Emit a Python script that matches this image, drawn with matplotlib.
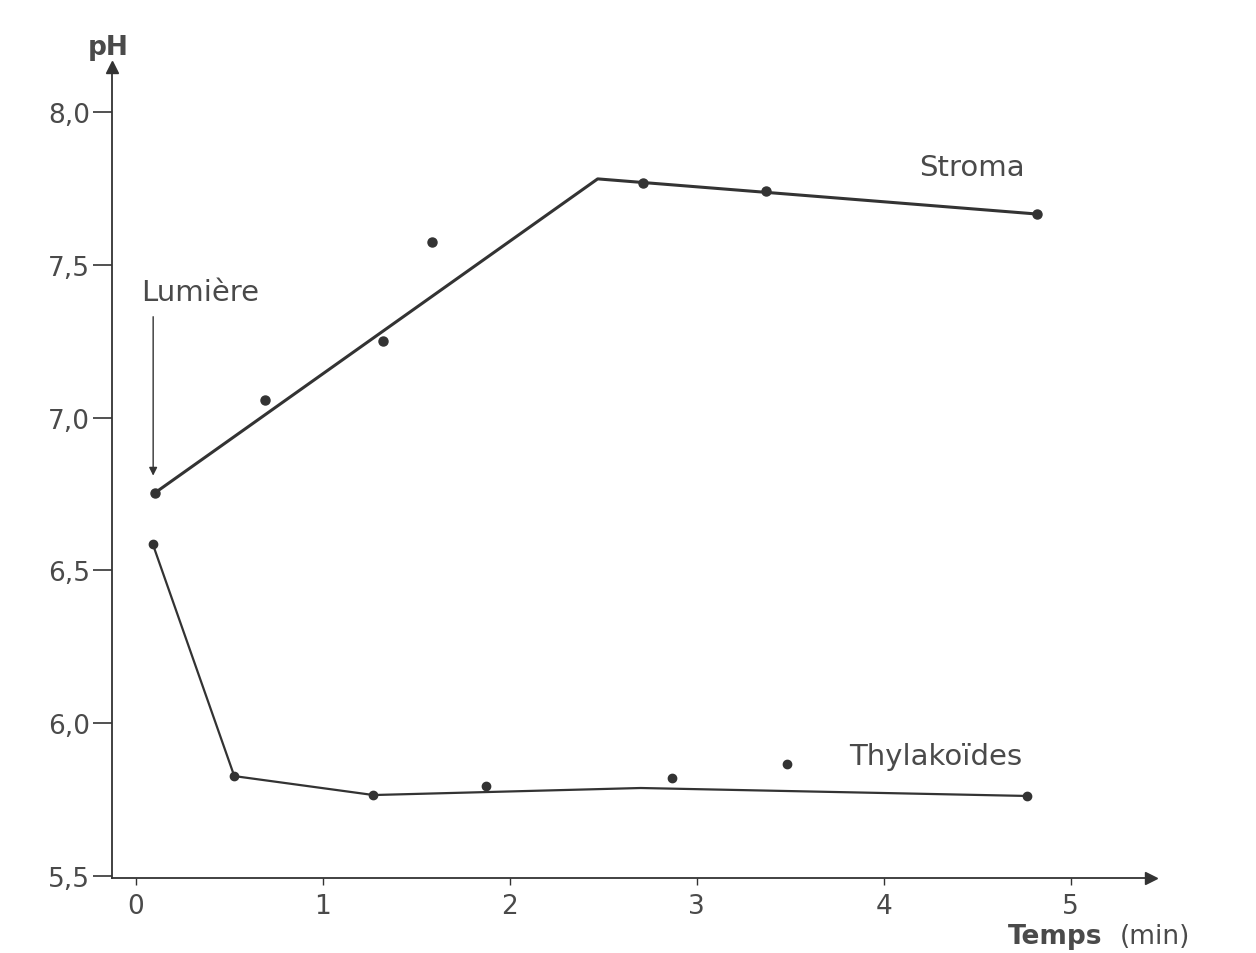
import matplotlib
matplotlib.use("Agg")
import matplotlib.pyplot as plt
from matplotlib.ticker import FixedLocator

# measured points (time in min, pH)
stroma_t = [0.10, 0.69, 1.32, 1.585, 2.71, 3.37, 4.82]
stroma_ph = [6.753, 7.058, 7.251, 7.575, 7.768, 7.741, 7.666]
# hand-drawn trend line through stroma points
stroma_fit_t = [0.10, 2.47, 4.82]
stroma_fit_ph = [6.753, 7.781, 7.666]

thyl_t = [0.09, 0.526, 1.27, 1.875, 2.87, 3.485, 4.764]
thyl_ph = [6.586, 5.827, 5.765, 5.795, 5.821, 5.867, 5.762]
thyl_fit_t = [0.09, 0.526, 1.27, 2.70, 4.764]
thyl_fit_ph = [6.586, 5.827, 5.765, 5.788, 5.762]

x_ticks = [0, 1, 2, 3, 4, 5]
y_ticks = [5.5, 6.0, 6.5, 7.0, 7.5, 8.0]
y_labels = ["5,5", "6,0", "6,5", "7,0", "7,5", "8,0"]

plt.rcParams['font.family'] = ['DejaVu Sans']
ink = "#333333"
txt = "#4a4a4a"

fig = plt.figure(figsize=(12.56, 9.54), dpi=100)
fig.patch.set_facecolor("white")
ax = fig.add_axes([0.0892, 0.0786, 0.8272, 0.8501])

ax.plot(stroma_fit_t, stroma_fit_ph, color=ink, lw=2.2, zorder=2)
ax.plot(stroma_t, stroma_ph, "o", color=ink, ms=6.5, zorder=3)
ax.plot(thyl_fit_t, thyl_fit_ph, color=ink, lw=1.6, zorder=2)
ax.plot(thyl_t, thyl_ph, "o", color=ink, ms=6, zorder=3)

ax.set_xlim(-0.128, 5.43)
ax.set_ylim(5.4935, 8.147)

for s in ["top", "right"]:
    ax.spines[s].set_visible(False)
for s in ["left", "bottom"]:
    ax.spines[s].set_color(ink)
    ax.spines[s].set_linewidth(1.3)

# arrow heads on axes
ax.plot(1, 0, ">", transform=ax.transAxes, color=ink, ms=8, clip_on=False)
ax.plot(0, 1, "^", transform=ax.transAxes, color=ink, ms=8, clip_on=False)

ax.xaxis.set_major_locator(FixedLocator(x_ticks))
ax.set_xticklabels([str(v) for v in x_ticks])
ax.yaxis.set_major_locator(FixedLocator(y_ticks))
ax.set_yticklabels(y_labels)
ax.tick_params(axis="x", length=5, width=1, color=ink, labelcolor=txt,
               labelsize=19, pad=6)
ax.tick_params(axis="y", length=14, width=1.2, color=ink, labelcolor=txt,
               labelsize=19, pad=2)

# axis titles
fig.text(108 / 1256, 1 - 48 / 954, "pH", fontsize=19, fontweight="bold",
         color=txt, ha="center", va="center")
fig.text(1008 / 1256, 1 - 937 / 954, "Temps", fontsize=19, fontweight="bold",
         color=txt, ha="left", va="center")
fig.text(1190 / 1256, 1 - 937 / 954, "(min)", fontsize=19,
         color=txt, ha="right", va="center")

ax.text(4.474, 7.82, "Stroma", fontsize=21, color=txt, ha="center", va="center")
ax.text(4.278, 5.893, "Thylakoïdes", fontsize=21, color=txt, ha="center", va="center")
ax.text(0.344, 7.411, "Lumière", fontsize=21, color=txt, ha="center", va="center")
ax.annotate("", xy=(0.092, 6.81), xytext=(0.092, 7.33),
            arrowprops=dict(arrowstyle="-|>", color=ink, lw=1.0,
                            mutation_scale=12, shrinkA=0, shrinkB=0))

fig.savefig("out.png", dpi=100, facecolor="white")
